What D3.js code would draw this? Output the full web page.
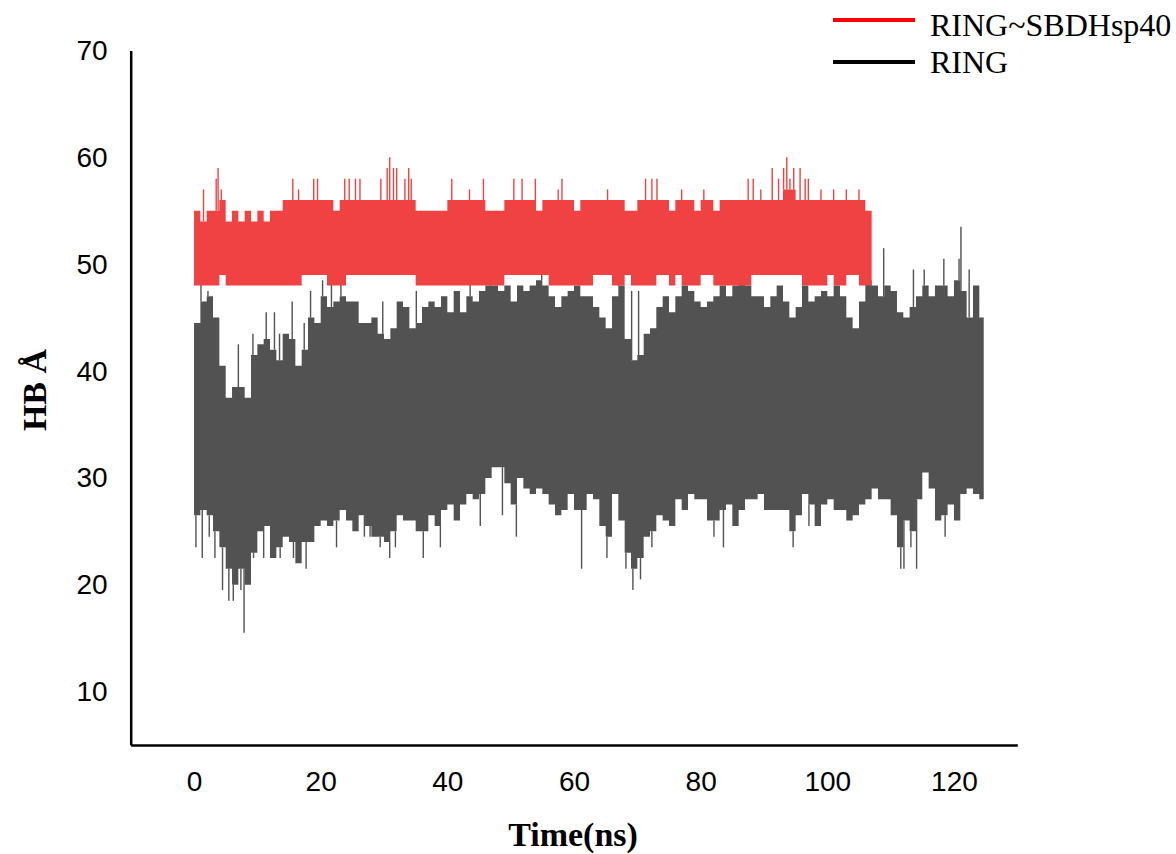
<!DOCTYPE html>
<html>
<head>
<meta charset="utf-8">
<script src="https://cdn.jsdelivr.net/npm/d3@7"></script>
<style>
  body { margin: 0; background: #fff; }
  svg { display: block; }
</style>
</head>
<body>
<svg id="chart" width="1176" height="854"></svg>
<script>
// tick labels
const xTicks = [0, 20, 40, 60, 80, 100, 120];
const yTicks = [10, 20, 30, 40, 50, 60, 70];

// RING : per-ns upper / lower envelope of the HB trace
const ringHi = [
  44.5, 46.5, 47, 45, 40.5, 37.5, 38.5, 38.5, 37.5, 41.5,
  42.5, 43, 42, 41, 43.5, 43, 40.5, 42, 45, 44.5,
  47, 46, 46.5, 47, 46.5, 46.5, 44.5, 44.5, 45, 43.5,
  43, 44, 46.5, 46, 44, 44.5, 46, 46.5, 46, 47,
  45.5, 47.5, 45.5, 47, 46.5, 47.5, 48, 48, 47.5, 48,
  46.5, 48, 47.5, 48, 48.5, 48, 47, 46, 47, 47.5,
  48, 47, 47, 46, 45, 44, 47, 48, 43, 41,
  41.5, 43.5, 44, 46, 47, 45.5, 47, 48, 47.5, 46.5,
  46, 46.5, 47, 48, 47, 48, 48.5, 48, 47, 47,
  46, 47, 48, 46.5, 45, 46, 48, 46.5, 47, 47.5,
  47, 48, 47, 45, 44, 46.5, 48.5, 48, 47, 48,
  47.5, 45.5, 45, 46, 47, 48, 47, 48, 48, 47,
  48.5, 47.5, 45, 48, 45
];
const ringLo = [
  26.5, 27, 26.5, 25, 23.5, 21.5, 20, 21.5, 20, 23,
  25, 25.5, 22.5, 23.5, 24.5, 24, 22, 24, 24, 25.5,
  26, 25.5, 26, 27, 26, 25, 26.5, 25.5, 24.5, 24.5,
  24, 25, 26.5, 26, 26, 25, 25, 26.5, 25.5, 27,
  27.5, 26, 27.5, 28.5, 28, 28.5, 30, 31, 31, 29.5,
  27.5, 30, 29, 28.5, 29, 28.5, 27.5, 26.5, 27, 28.5,
  27, 27, 28.5, 28, 25.5, 24.5, 28.5, 26, 23, 21.5,
  22.5, 24.5, 25, 26.5, 26, 25.5, 28, 27, 28.5, 28,
  28, 26, 26, 27, 27.5, 25.5, 27, 28, 28, 28.5,
  27, 27, 27, 27, 25, 26.5, 28.5, 27.5, 25.5, 27.5,
  28, 27, 27, 26, 26.5, 27.5, 28, 29, 28, 28,
  26.5, 23.5, 26, 25, 28, 30.5, 29, 26, 26.5, 27.5,
  26, 28.5, 29, 28.5, 28
];
const ringEnd = 124.7;
// single frames that stick out of the envelope: [time ns, HB]
const ringSpikes = [
  [0.3, 23.5], [1.1, 48.5], [1.3, 22.5], [2.2, 47.5], [2.4, 24.5], [3.3, 22.5],
  [4.5, 19.5], [5.5, 18.5], [6.2, 18.5], [7.0, 42.5], [7.4, 19.5], [7.9, 15.5],
  [9.3, 43.5], [9.4, 22.5], [11.0, 22.5], [11.4, 45.5], [12.7, 45.5], [13.5, 43.5],
  [13.6, 22.5], [15.5, 46.5], [15.7, 22.5], [17.4, 44.5], [17.7, 21.5], [18.4, 47.5],
  [20.3, 48.5], [21.7, 49.5], [22.5, 23.5], [23.2, 49.5], [26.9, 24.5], [27.8, 24.5],
  [29.4, 23.5], [29.8, 46.5], [30.9, 22.5], [31.8, 23.5], [35.1, 47.5], [36.2, 22.5],
  [38.9, 23.5], [43.6, 48.5], [45.2, 25.5], [46.8, 49.5], [48.7, 26.5], [50.9, 24.5],
  [54.9, 49.5], [61.2, 21.5], [65.2, 22.5], [67.0, 49.5], [68.2, 21.5], [69.1, 47.5],
  [69.3, 19.5], [70.2, 47.5], [70.5, 20.5], [72.3, 23.5], [82.1, 24.5], [83.6, 23.5],
  [94.6, 23.5], [97.1, 25.5], [108.9, 51.5], [111.6, 21.5], [112.1, 21.5], [113.2, 23.5],
  [113.6, 49.5], [114.1, 21.5], [115.3, 49.5], [118.4, 50.5], [118.6, 24.5], [120.8, 50.5],
  [121.1, 53.5], [122.4, 49.5]
];

// RING~SBDHsp40
const sbdHi = [
  55, 54, 55, 55, 56, 54, 55, 54, 55, 54,
  55, 54, 55, 55, 56, 56, 56, 56, 56, 56,
  56, 56, 55, 56, 56, 56, 56, 56, 56, 56,
  56, 56, 56, 56, 56, 55, 55, 55, 55, 55,
  56, 56, 56, 56, 56, 56, 55, 55, 55, 56,
  56, 56, 56, 56, 55, 56, 56, 56, 56, 56,
  55, 56, 56, 56, 56, 56, 56, 56, 55, 55,
  56, 56, 56, 56, 56, 55, 56, 56, 56, 55,
  56, 56, 55, 56, 56, 56, 56, 56, 56, 56,
  56, 56, 56, 57, 57, 56, 56, 56, 56, 56,
  56, 56, 56, 56, 56, 56, 55
];
const sbdLo = [
  48, 48, 48, 48, 49, 48, 48, 48, 48, 48,
  48, 48, 48, 48, 48, 48, 48, 49, 49, 49,
  49, 48, 48, 48, 49, 49, 49, 49, 49, 49,
  49, 49, 49, 49, 49, 48, 48, 48, 48, 48,
  48, 48, 48, 48, 48, 48, 48, 48, 48, 49,
  49, 49, 49, 49, 49, 49, 48, 48, 48, 48,
  48, 48, 48, 49, 49, 49, 48, 48, 49, 48,
  48, 48, 48, 49, 49, 48, 49, 48, 48, 48,
  49, 49, 48, 48, 48, 48, 48, 48, 49, 49,
  49, 49, 49, 49, 49, 49, 48, 48, 48, 48,
  49, 48, 48, 49, 49, 48, 48
];
const sbdEnd = 107.0;
const sbdSpikes = [
  [1.5, 57], [3.5, 58], [3.8, 59], [4.3, 57], [15.6, 58], [16.5, 57], [18.9, 58],
  [19.5, 58], [23.8, 58], [24.5, 58], [25.5, 58], [26.2, 58], [29.5, 58], [30.5, 59],
  [30.9, 60], [31.5, 59], [32.0, 59], [33.3, 58], [33.9, 59], [34.3, 58], [40.7, 58],
  [43.5, 57], [45.7, 58], [50.5, 58], [51.8, 58], [53.9, 58], [57.5, 57], [58.1, 58],
  [65.3, 57], [71.3, 58], [72.3, 58], [73.1, 58], [77.0, 57], [80.5, 57], [87.5, 58],
  [88.3, 58], [89.5, 57], [91.3, 59], [92.3, 58], [93.1, 59], [93.6, 60], [94.1, 58],
  [94.7, 59], [95.7, 59], [96.5, 58], [97.0, 58], [99.0, 57], [101.0, 57], [103.0, 57],
  [105.0, 57]
];

const svg = d3.select('#chart');

const x = d3.scaleLinear().domain([-10, 130]).range([130.7, 1017.3]);
const y = d3.scaleLinear().domain([5, 70]).range([745, 50.5]);

// build envelope points, one per ns, closed at the last frame time
function envelope(hi, lo, end) {
  const pts = hi.map((h, i) => ({ t: i, hi: h, lo: lo[i] }));
  pts.push({ t: end, hi: hi[hi.length - 1], lo: lo[lo.length - 1] });
  return pts;
}

const area = d3.area()
  .x(d => x(d.t))
  .y0(d => y(d.lo))
  .y1(d => y(d.hi))
  .curve(d3.curveStepAfter);

function drawSeries(hi, lo, end, spikes, color) {
  const g = svg.append('g');
  g.append('path')
    .datum(envelope(hi, lo, end))
    .attr('d', area)
    .attr('fill', color);

  g.selectAll('line.spike')
    .data(spikes)
    .enter()
    .append('line')
    .classed('spike', true)
    .attr('x1', d => x(d[0]))
    .attr('x2', d => x(d[0]))
    .attr('y1', d => {
      const i = Math.min(Math.floor(d[0]), hi.length - 1);
      return d[1] > (hi[i] + lo[i]) / 2 ? y(hi[i]) : y(lo[i]);
    })
    .attr('y2', d => y(d[1]))
    .attr('stroke', color)
    .attr('stroke-width', 1.4);
}

drawSeries(ringHi, ringLo, ringEnd, ringSpikes, '#525252');
drawSeries(sbdHi, sbdLo, sbdEnd, sbdSpikes, '#f04242');

// axes, no tick marks
const xAxis = svg.append('g')
  .attr('transform', 'translate(0,745)')
  .call(d3.axisBottom(x).tickValues(xTicks).tickSize(0).tickSizeOuter(0).tickPadding(26));

const yAxis = svg.append('g')
  .attr('transform', 'translate(130.7,0)')
  .call(d3.axisLeft(y).tickValues(yTicks).tickSize(0).tickSizeOuter(0).tickPadding(23));

[xAxis, yAxis].forEach(ax => {
  ax.select('.domain').attr('stroke', '#000').attr('stroke-width', 2.5);
  ax.selectAll('text')
    .attr('fill', '#000')
    .style('font-family', '"Liberation Sans", Arial, sans-serif')
    .style('font-size', '28px');
});

// axis titles
svg.append('text')
  .attr('x', 573)
  .attr('y', 846)
  .attr('text-anchor', 'middle')
  .style('font-family', '"Liberation Serif", "Times New Roman", serif')
  .style('font-weight', 'bold')
  .style('font-size', '34px')
  .text('Time(ns)');

svg.append('text')
  .attr('transform', 'translate(46,390) rotate(-90)')
  .attr('text-anchor', 'middle')
  .style('font-family', '"Liberation Serif", "Times New Roman", serif')
  .style('font-weight', 'bold')
  .style('font-size', '34px')
  .text('HB Å');

// legend
const legendItems = [
  { label: 'RING~SBDHsp40', color: '#ff0000', ly: 20, ty: 36 },
  { label: 'RING', color: '#000000', ly: 62, ty: 73 }
];
const legend = svg.append('g');
legend.selectAll('line')
  .data(legendItems)
  .enter()
  .append('line')
  .attr('x1', 833)
  .attr('x2', 915)
  .attr('y1', d => d.ly)
  .attr('y2', d => d.ly)
  .attr('stroke', d => d.color)
  .attr('stroke-width', 4);
legend.selectAll('text')
  .data(legendItems)
  .enter()
  .append('text')
  .attr('x', 930)
  .attr('y', d => d.ty)
  .style('font-family', '"Liberation Serif", "Times New Roman", serif')
  .style('font-size', '32px')
  .text(d => d.label);
</script>
</body>
</html>
